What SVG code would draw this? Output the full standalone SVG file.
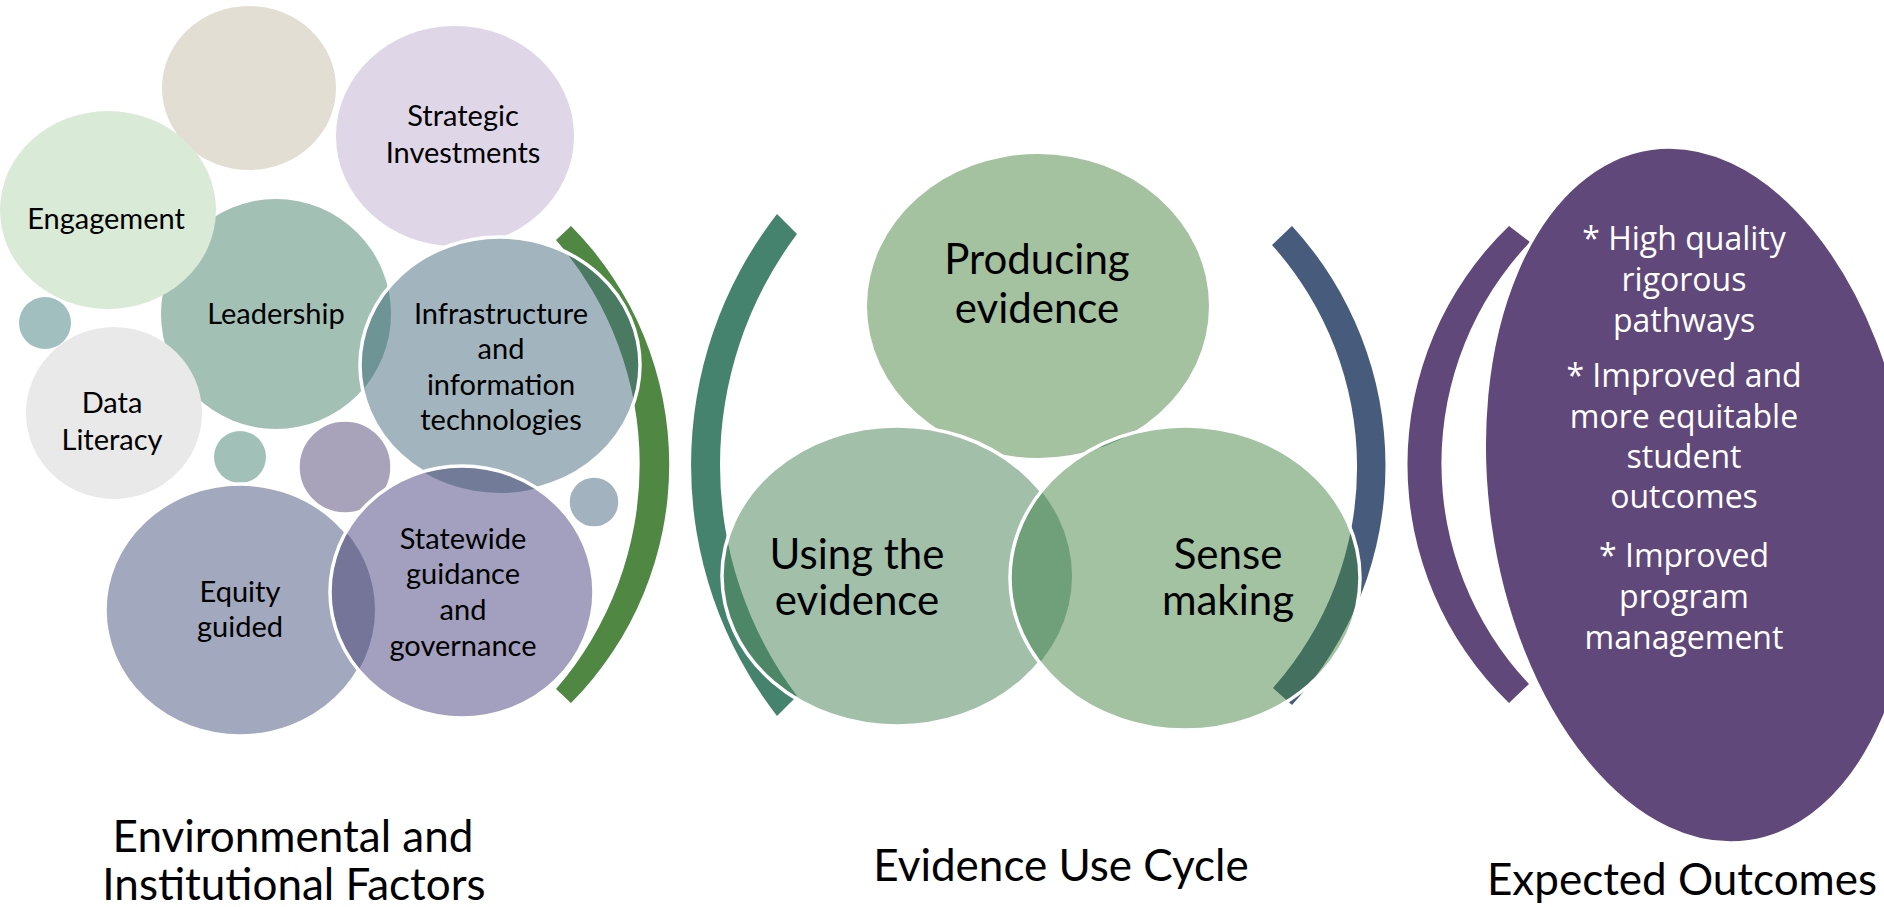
<svg xmlns="http://www.w3.org/2000/svg" width="1884" height="907" viewBox="0 0 1884 907">
<style>
 .lbl{font-family:Lato,"Liberation Sans",sans-serif;fill:#000;text-anchor:middle}
 .f29{font-size:29px}
 .f42{font-size:42px}
 .f44{font-size:44px}
 .wt{font-family:"Open Sans","Liberation Sans",sans-serif;font-size:32px;fill:#fff;text-anchor:middle}
 .ws{fill:none;stroke:#fff;stroke-width:3.5}
</style>
<defs>
 <path id="arcG" d="M571,226 A338.7,338.7 0 0 1 571,703 L556,689 A342.9,342.9 0 0 0 556,240 Z"/>
 <path id="arcT" d="M777,214 A409.5,409.5 0 0 0 777,716 L797,696 A385,385 0 0 1 797,234 Z"/>
 <path id="arcB" d="M1292,226 A353.5,353.5 0 0 1 1292,705 L1273,688 A332.4,332.4 0 0 0 1272,245 Z"/>
 <path id="arcP" d="M1509,226 A330.9,330.9 0 0 0 1509,703 L1529,684 A321.3,321.3 0 0 1 1530,242 Z"/>
 <ellipse id="eLead" cx="276" cy="314" rx="115" ry="115"/>
 <ellipse id="eInfra" cx="500" cy="365" rx="140" ry="128"/>
 <ellipse id="eEq" cx="240" cy="610" rx="135" ry="126"/>
 <ellipse id="eSt" cx="462" cy="592" rx="132" ry="126"/>
 <ellipse id="eProd" cx="1038" cy="306" rx="171" ry="152"/>
 <ellipse id="eUse" cx="897" cy="576" rx="175" ry="150"/>
 <ellipse id="eSense" cx="1185" cy="578" rx="175" ry="152"/>
 <clipPath id="cInfra"><use href="#eInfra"/></clipPath>
 <clipPath id="cSt"><use href="#eSt"/></clipPath>
 <clipPath id="cUse"><use href="#eUse"/></clipPath>
 <clipPath id="cSense"><use href="#eSense"/></clipPath>
</defs>
<rect width="1884" height="907" fill="#fff"/>

<g id="connectors">
 <use href="#arcG" fill="#4F8743"/>
 <use href="#arcT" fill="#45836E"/>
 <use href="#arcB" fill="#475B7D"/>
 <use href="#arcP" fill="#60487A"/>
</g>

<g id="beige"><ellipse cx="249" cy="88" rx="87" ry="82" fill="#E3DED3"/></g>

<g id="strategic">
 <ellipse cx="455" cy="136" rx="119" ry="110" fill="#DFD6E8"/>
 <text class="lbl f29" x="463" y="126">Strategic</text>
 <text class="lbl f29" x="463" y="163">Investments</text>
</g>

<g id="leadership">
 <use href="#eLead" fill="#A2C0B4"/>
</g>

<g id="engagement">
 <ellipse cx="108" cy="210" rx="108" ry="99" fill="#D9EAD7"/>
 <text class="lbl f29" x="106" y="229">Engagement</text>
</g>

<g id="leadership-label"><text class="lbl f29" x="276" y="324">Leadership</text></g>

<g id="teal-dot-1"><circle cx="45" cy="323" r="26" fill="#A2BFC0"/></g>

<g id="data-literacy">
 <ellipse cx="114" cy="413" rx="88" ry="86" fill="#E9E9E9"/>
 <text class="lbl f29" x="112" y="413">Data</text>
 <text class="lbl f29" x="112" y="450">Literacy</text>
</g>

<g id="infrastructure">
 <use href="#eInfra" fill="#A2B5BF"/>
 <use href="#eLead" fill="#6F9496" clip-path="url(#cInfra)"/>
 <use href="#arcG" fill="#4A7A62" clip-path="url(#cInfra)"/>
 <use href="#eInfra" class="ws"/>
 <text class="lbl f29" x="501" y="324">Infrastructure</text>
 <text class="lbl f29" x="501" y="359">and</text>
 <text class="lbl f29" x="501" y="395">information</text>
 <text class="lbl f29" x="501" y="430">technologies</text>
</g>

<g id="teal-dot-2"><circle cx="240" cy="457" r="26" fill="#A0C0B8"/></g>

<g id="purple-dot"><circle cx="345" cy="467" r="47" fill="#A8A2BA" stroke="#fff" stroke-width="3.5"/></g>

<g id="equity">
 <use href="#eEq" fill="#A2A8BD" stroke="#fff" stroke-width="3.5"/>
 <text class="lbl f29" x="240" y="602">Equity</text>
 <text class="lbl f29" x="240" y="637">guided</text>
</g>

<g id="statewide">
 <use href="#eSt" fill="#A2A0BE"/>
 <use href="#eEq" fill="#747598" clip-path="url(#cSt)"/>
 <use href="#eInfra" fill="#727B98" clip-path="url(#cSt)"/>
 <use href="#arcG" fill="#4B6B5B" clip-path="url(#cSt)"/>
 <use href="#eSt" class="ws"/>
 <text class="lbl f29" x="463" y="549">Statewide</text>
 <text class="lbl f29" x="463" y="584">guidance</text>
 <text class="lbl f29" x="463" y="620">and</text>
 <text class="lbl f29" x="463" y="656">governance</text>
</g>

<g id="bluegrey-dot"><circle cx="594" cy="502" r="26" fill="#A2B3BF" stroke="#fff" stroke-width="3.5"/></g>

<g id="producing">
 <use href="#eProd" fill="#A5C2A0"/>
 <text class="lbl f42" x="1037" y="274">Producing</text>
 <text class="lbl f42" x="1037" y="323">evidence</text>
</g>

<g id="using">
 <use href="#eUse" fill="#A1BFA9"/>
 <use href="#arcT" fill="#4D8767" clip-path="url(#cUse)"/>
 <use href="#eUse" class="ws"/>
 <text class="lbl f42" x="857" y="569">Using the</text>
 <text class="lbl f42" x="857" y="615">evidence</text>
</g>

<g id="sense">
 <use href="#eSense" fill="#A2C2A2"/>
 <use href="#eUse" fill="#70A07A" clip-path="url(#cSense)"/>
 <use href="#eProd" fill="#5E9466" clip-path="url(#cSense)"/>
 <use href="#arcB" fill="#44705F" clip-path="url(#cSense)"/>
 <use href="#eSense" class="ws"/>
 <text class="lbl f42" x="1228" y="569">Sense</text>
 <text class="lbl f42" x="1228" y="615">making</text>
</g>

<g id="outcomes">
 <ellipse cx="1700" cy="495" rx="212" ry="350" transform="rotate(-8 1700 495)" fill="#60487A" stroke="#fff" stroke-width="3"/>
 <text class="wt" x="1684" y="250">* High quality</text>
 <text class="wt" x="1684" y="291">rigorous</text>
 <text class="wt" x="1684" y="332">pathways</text>
 <text class="wt" x="1684" y="387">* Improved and</text>
 <text class="wt" x="1684" y="428">more equitable</text>
 <text class="wt" x="1684" y="468">student</text>
 <text class="wt" x="1684" y="508">outcomes</text>
 <text class="wt" x="1684" y="567">* Improved</text>
 <text class="wt" x="1684" y="608">program</text>
 <text class="wt" x="1684" y="649">management</text>
</g>

<g id="titles">
 <text class="lbl f44" x="293" y="852">Environmental and</text>
 <text class="lbl f44" x="294" y="900">Institutional Factors</text>
 <text class="lbl f44" x="1061" y="881">Evidence Use Cycle</text>
 <text class="lbl f44" x="1682" y="895">Expected Outcomes</text>
</g>
</svg>
